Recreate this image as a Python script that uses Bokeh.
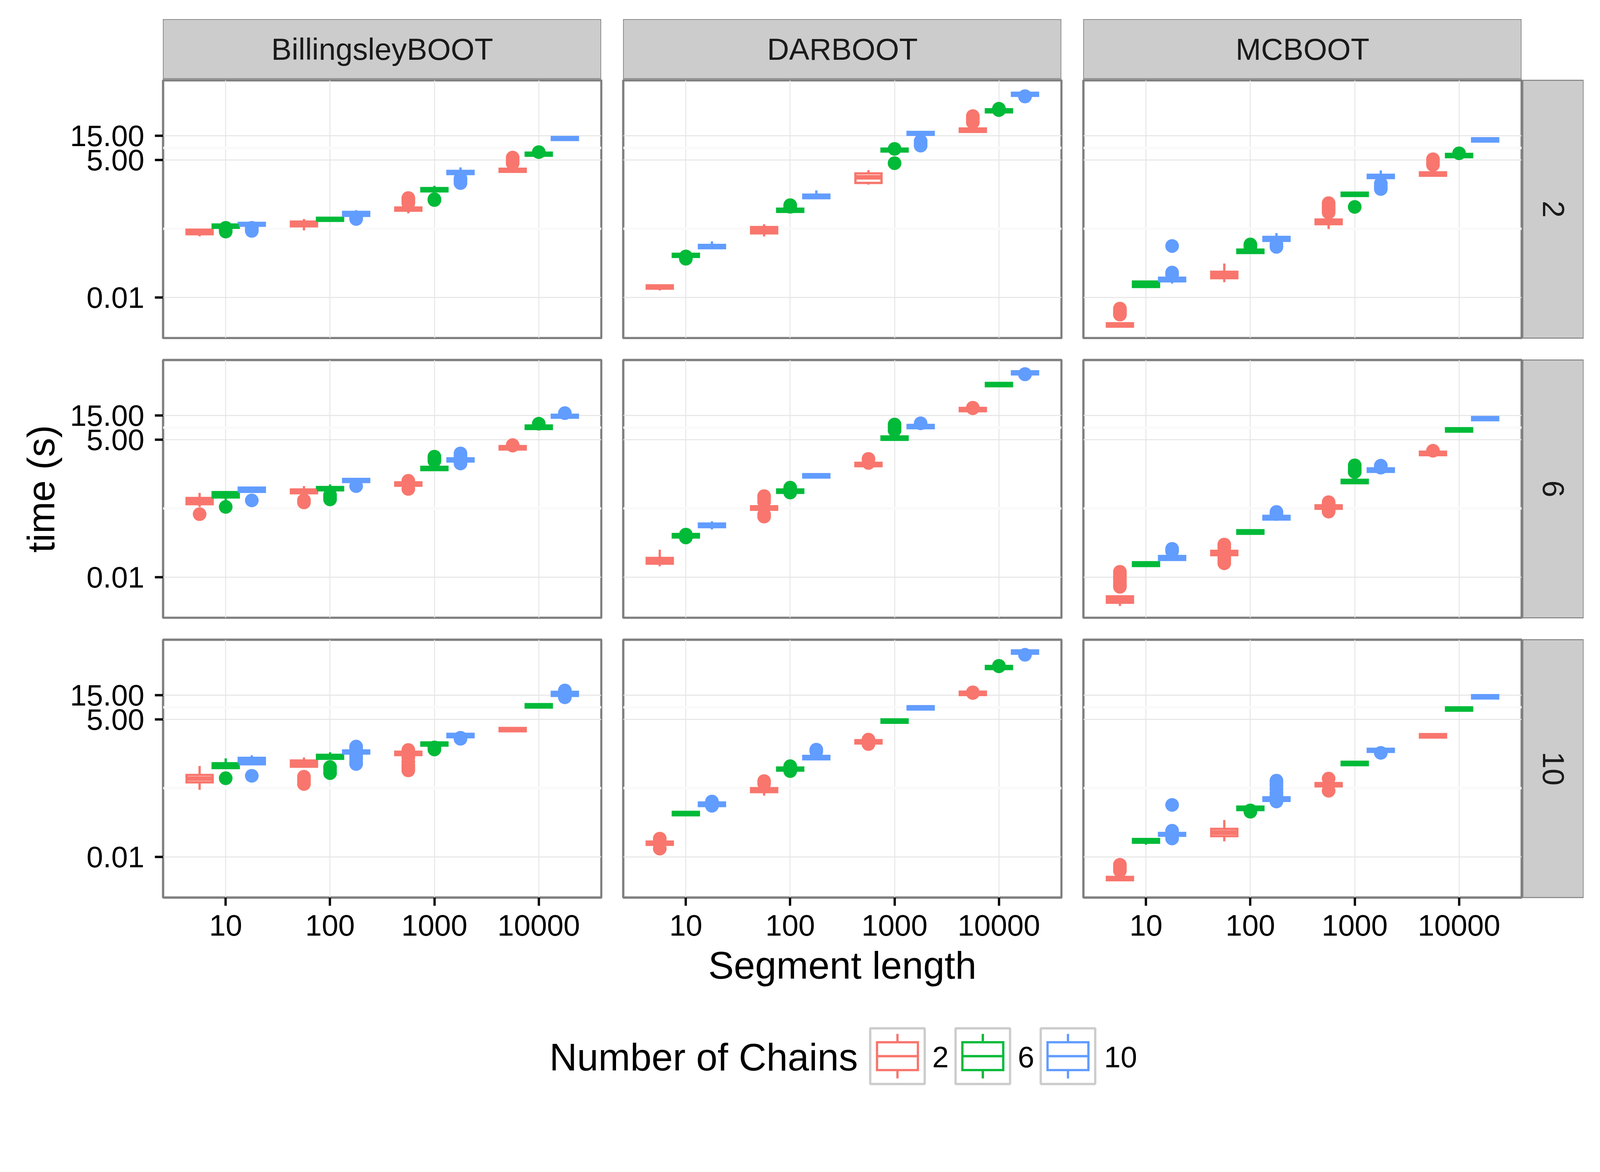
import math
from bokeh.plotting import figure
from bokeh.models import Range1d, FixedTicker, ColumnDataSource, Spacer
from bokeh.layouts import row, column
from bokeh.embed import file_html
from bokeh.resources import INLINE
from bokeh.core.properties import value

# ---------------- data ----------------
METHODS = ["BillingsleyBOOT", "DARBOOT", "MCBOOT"]
ROW_LEVELS = ["2", "6", "10"]
SEGMENTS = ["10", "100", "1000", "10000"]
CHAINS = ["2", "6", "10"]
COLORS = ["#F8766D", "#00BA38", "#619CFF"]
Y_TICKS = [0.01, 5, 15]
Y_TICK_LABELS = ["0.01", "5.00", "15.00"]
X_TITLE = "Segment length"
Y_TITLE = "time (s)"
LEGEND_TITLE = "Number of Chains"

# each panel: 12 boxes ordered by segment then chains:
# (lower whisker, q1, median, q3, upper whisker) in seconds
BILL_2 = [
    (0.159, 0.175, 0.194, 0.215, 0.215), (0.234, 0.234, 0.252, 0.271, 0.271), (0.256, 0.256, 0.274, 0.292, 0.292),
    (0.208, 0.250, 0.279, 0.310, 0.348), (0.320, 0.320, 0.343, 0.368, 0.368), (0.401, 0.401, 0.439, 0.479, 0.519),
    (0.449, 0.505, 0.543, 0.585, 0.585), (1.211, 1.211, 1.303, 1.403, 1.556), (2.649, 2.649, 2.838, 3.048, 3.573),
    (2.924, 2.924, 3.133, 3.365, 3.365), (6.067, 6.067, 6.501, 6.982, 6.982), (12.36, 12.36, 13.18, 14.09, 14.09),
]
BILL_2_OUT = [[], [0.233, 0.214, 0.197], [0.233, 0.219, 0.203],
              [], [], [0.372, 0.348],
              [0.711, 0.767, 0.832, 0.895], [0.817, 0.851], [2.163, 1.95, 1.762],
              [4.325, 4.898, 5.572], [7.129], []]

DAR_2 = [
    (0.0138, 0.01496, 0.01611, 0.01734, 0.01734), (0.0627, 0.0627, 0.0671, 0.0721, 0.0721), (0.0931, 0.0931, 0.1002, 0.1079, 0.1262),
    (0.158, 0.182, 0.209, 0.242, 0.274), (0.479, 0.479, 0.515, 0.555, 0.555), (0.891, 0.891, 0.966, 1.047, 1.265),
    (1.644, 1.774, 2.286, 2.729, 3.155), (7.328, 7.328, 7.816, 8.356, 8.356), (15.56, 15.56, 16.6, 17.74, 17.74),
    (17.78, 17.78, 19.19, 20.75, 20.75), (42.95, 42.95, 46.03, 49.43, 49.43), (90.57, 90.57, 97.05, 104.2, 104.2),
]
DAR_2_OUT = [[], [0.0641, 0.0577], [],
             [], [0.649, 0.603], [],
             [], [8.241, 4.325], [11.75, 10.59, 9.55],
             [27.35, 31.6, 36.3], [50.6, 47.5], [89.3, 87.9]]

MC_2 = [
    (0.00269, 0.00269, 0.00290, 0.00313, 0.00313), (0.0161, 0.0161, 0.0182, 0.0206, 0.0206), (0.0188, 0.0208, 0.0226, 0.0245, 0.0245),
    (0.0200, 0.0240, 0.0278, 0.0321, 0.0465), (0.0748, 0.0748, 0.0809, 0.0873, 0.0873), (0.1294, 0.1294, 0.1416, 0.1549, 0.184),
    (0.221, 0.275, 0.305, 0.340, 0.340), (0.984, 0.984, 1.059, 1.140, 1.140), (2.208, 2.208, 2.377, 2.559, 3.112),
    (2.449, 2.449, 2.642, 2.858, 2.858), (5.675, 5.675, 6.109, 6.577, 6.577), (11.51, 11.51, 12.39, 13.34, 13.34),
]
MC_2_OUT = [[0.00607, 0.00550, 0.00501, 0.00463], [], [0.0309, 0.0282, 0.1026],
            [], [0.110, 0.100], [0.0986, 0.1096],
            [0.711, 0.646, 0.575, 0.525, 0.466], [0.600], [1.722, 1.514, 1.346],
            [4.009, 4.571, 5.164], [6.761], []]

BILL_6 = [
    (0.240, 0.272, 0.313, 0.359, 0.452), (0.327, 0.368, 0.415, 0.468, 0.468), (0.474, 0.474, 0.522, 0.575, 0.575),
    (0.445, 0.445, 0.484, 0.527, 0.614), (0.508, 0.508, 0.547, 0.589, 0.664), (0.740, 0.740, 0.792, 0.851, 0.851),
    (0.624, 0.624, 0.673, 0.728, 0.728), (1.268, 1.268, 1.365, 1.469, 1.469), (1.871, 1.871, 2.005, 2.153, 2.153),
    (3.206, 3.206, 3.459, 3.741, 3.741), (8.128, 8.128, 8.77, 9.484, 9.484), (13.55, 13.55, 14.45, 15.45, 15.45),
]
BILL_6_OUT = [[0.173], [0.240], [0.322],
              [0.324, 0.294], [0.412, 0.372, 0.337], [0.614],
              [0.780, 0.540], [1.914, 2.089, 2.323], [2.685, 2.399, 1.905, 1.706],
              [3.917, 3.828], [10.3], [16.6]]

DAR_6 = [
    (0.0164, 0.0185, 0.0211, 0.0239, 0.0348), (0.0604, 0.0604, 0.0652, 0.0705, 0.0705), (0.0867, 0.0962, 0.1042, 0.1130, 0.1253),
    (0.211, 0.211, 0.228, 0.247, 0.247), (0.452, 0.452, 0.488, 0.527, 0.527), (0.904, 0.904, 0.975, 1.054, 1.054),
    (1.51, 1.51, 1.629, 1.762, 1.762), (4.966, 4.966, 5.358, 5.794, 5.794), (8.395, 8.395, 9.036, 9.727, 9.727),
    (18.11, 18.11, 19.5, 20.99, 20.99), (55.98, 55.98, 60.26, 64.86, 64.86), (95.5, 95.5, 102.3, 109.6, 109.6),
]
DAR_6_OUT = [[], [0.0687, 0.0604], [],
             [0.391, 0.347, 0.303, 0.155, 0.170], [0.573, 0.459], [],
             [2.10, 1.75], [7.638, 8.71, 9.908], [10.47],
             [21.2, 20.7], [], [97.0, 95.7]]

MC_6 = [
    (0.00273, 0.00317, 0.00366, 0.00422, 0.00422), (0.0166, 0.0166, 0.0181, 0.0197, 0.0197), (0.0219, 0.0219, 0.0240, 0.0262, 0.0262),
    (0.0272, 0.0272, 0.0300, 0.0330, 0.0330), (0.0713, 0.0713, 0.0773, 0.0838, 0.0838), (0.136, 0.136, 0.147, 0.160, 0.160),
    (0.221, 0.221, 0.239, 0.258, 0.258), (0.701, 0.701, 0.757, 0.818, 0.818), (1.172, 1.172, 1.265, 1.368, 1.368),
    (2.489, 2.489, 2.685, 2.904, 2.904), (7.194, 7.194, 7.762, 8.395, 8.395), (12.05, 12.05, 12.97, 13.96, 13.96),
]
MC_6_OUT = [[0.0128, 0.0112, 0.0100, 0.00891, 0.00794, 0.00708, 0.00650], [], [0.0361, 0.0324],
            [0.0438, 0.0380, 0.0240, 0.0214, 0.0188], [], [0.191, 0.174],
            [0.297, 0.275, 0.209, 0.194], [1.161, 1.259, 1.380, 1.570], [1.545, 1.413],
            [3.034], [], []]

BILL_10 = [
    (0.208, 0.292, 0.345, 0.407, 0.610), (0.556, 0.556, 0.619, 0.690, 0.861), (0.658, 0.658, 0.762, 0.881, 0.989),
    (0.589, 0.589, 0.679, 0.783, 0.895), (0.843, 0.843, 0.923, 1.009, 1.135), (1.069, 1.069, 1.146, 1.230, 1.230),
    (0.998, 0.998, 1.076, 1.164, 1.164), (1.528, 1.528, 1.644, 1.770, 1.770), (2.234, 2.234, 2.410, 2.606, 2.606),
    (2.931, 2.931, 3.155, 3.396, 3.396), (8.57, 8.57, 9.247, 9.977, 9.977), (14.49, 14.49, 15.85, 17.34, 17.34),
]
BILL_10_OUT = [[], [0.351], [0.391],
               [0.376, 0.339, 0.302, 0.270], [0.582, 0.513, 0.442], [1.466, 1.318, 0.955, 0.855, 0.733, 0.668],
               [1.256, 0.891, 0.741, 0.631, 0.562, 0.499], [1.285, 1.413], [2.183, 2.084],
               [], [], [18.49, 13.58, 15.85]]

DAR_10 = [
    (0.0173, 0.0173, 0.0186, 0.0201, 0.0201), (0.0658, 0.0658, 0.0710, 0.0766, 0.0766), (0.0998, 0.0998, 0.108, 0.117, 0.117),
    (0.160, 0.1875, 0.205, 0.224, 0.224), (0.495, 0.495, 0.531, 0.570, 0.570), (0.824, 0.824, 0.889, 0.962, 0.962),
    (1.687, 1.687, 1.816, 1.954, 1.954), (4.295, 4.295, 4.634, 5.0, 5.0), (7.834, 7.834, 8.433, 9.078, 9.078),
    (15.03, 15.03, 16.22, 17.5, 17.5), (48.64, 48.64, 52.12, 55.98, 55.98), (97.27, 97.27, 104.7, 112.7, 112.7),
]
DAR_10_OUT = [[0.0229, 0.0146], [], [0.1225, 0.1009],
              [0.308, 0.275], [0.605, 0.484], [1.274, 1.175],
              [2.005, 1.644], [], [],
              [16.98, 16.48], [56.2, 54.95], [92.68]]

MC_10 = [
    (0.00350, 0.00350, 0.00377, 0.00406, 0.00406), (0.0174, 0.0191, 0.0207, 0.0225, 0.0225), (0.0261, 0.0261, 0.0278, 0.0296, 0.0296),
    (0.0203, 0.0256, 0.0302, 0.0356, 0.0530), (0.0834, 0.0834, 0.0900, 0.0973, 0.0973), (0.126, 0.126, 0.136, 0.148, 0.148),
    (0.243, 0.243, 0.262, 0.282, 0.282), (0.634, 0.634, 0.684, 0.738, 0.738), (1.153, 1.153, 1.236, 1.327, 1.327),
    (2.203, 2.203, 2.377, 2.570, 2.570), (7.413, 7.413, 7.998, 8.63, 8.63), (12.91, 12.91, 13.9, 14.96, 14.96),
]
MC_10_OUT = [[0.00703, 0.00617, 0.00537], [], [0.0327, 0.0231, 0.105],
             [], [0.0820, 0.0773], [0.315, 0.282, 0.251, 0.214, 0.182, 0.158, 0.1225],
             [0.345, 0.199], [], [1.102],
             [], [], []]

PANELS = [
    [(BILL_2, BILL_2_OUT), (DAR_2, DAR_2_OUT), (MC_2, MC_2_OUT)],
    [(BILL_6, BILL_6_OUT), (DAR_6, DAR_6_OUT), (MC_6, MC_6_OUT)],
    [(BILL_10, BILL_10_OUT), (DAR_10, DAR_10_OUT), (MC_10, MC_10_OUT)],
]

# ---------------- layout / style ----------------
FONT = "Liberation Sans"
PANEL_W, PANEL_H = 1122, 660
PAD = 3
LEFT = 417
BOTTOM = 250
GAP = 56
TOP = 49
STRIP_TOP_H = 153
STRIP_W = 156
TOTAL_W, TOTAL_H = 4097, 2927
Y_LO, Y_HI = 0.0016, 183.0
X_LO, X_HI = 0.4, 4.6
BOX_W = 0.25
DODGE = 0.25
LW = 5.85
GRID_MAJOR = "#E5E5E5"
GRID_MINOR = "#FAFAFA"
BORDER = "#7F7F7F"
TICK_FS = "76px"
STRIP_FS = "78px"
TITLE_FS = "98px"


def style_axis(ax):
    ax.axis_line_color = None
    ax.major_tick_line_color = "black"
    ax.major_tick_line_width = 5.85
    ax.major_tick_out = 21
    ax.major_tick_in = 0
    ax.minor_tick_line_color = None
    ax.major_label_text_font = FONT
    ax.major_label_text_font_size = TICK_FS
    ax.major_label_text_color = "black"
    ax.axis_label_text_font = FONT
    ax.axis_label_text_font_size = TITLE_FS
    ax.axis_label_text_font_style = "normal"
    ax.axis_label_text_color = "black"


def make_panel(stats, outl, r, c):
    show_y = c == 0
    show_x = r == len(ROW_LEVELS) - 1
    bl = LEFT if show_y else PAD
    bb = BOTTOM if show_x else PAD
    p = figure(width=bl + PANEL_W + PAD, height=PAD + PANEL_H + bb,
               x_range=Range1d(X_LO, X_HI), y_range=Range1d(Y_LO, Y_HI),
               y_axis_type="log",
               x_axis_location="below" if show_x else None,
               y_axis_location="left" if show_y else None,
               output_backend="svg", toolbar_location=None,
               min_border_left=bl, min_border_right=PAD,
               min_border_top=PAD, min_border_bottom=bb)
    p.background_fill_color = "white"
    p.border_fill_color = "white"
    p.outline_line_color = BORDER
    p.outline_line_width = LW

    xt = FixedTicker(ticks=list(range(1, len(SEGMENTS) + 1)))
    minor = [10 ** ((math.log10(a) + math.log10(b)) / 2) for a, b in zip(Y_TICKS[:-1], Y_TICKS[1:])]
    yt = FixedTicker(ticks=Y_TICKS, minor_ticks=minor)
    for g in p.xgrid:
        g.ticker = xt
        g.grid_line_color = GRID_MAJOR
        g.grid_line_width = 2.3
    for g in p.ygrid:
        g.ticker = yt
        g.grid_line_color = GRID_MAJOR
        g.grid_line_width = 2.3
        g.minor_grid_line_color = GRID_MINOR
        g.minor_grid_line_width = 5.85

    if show_x:
        ax = p.xaxis[0]
        ax.ticker = xt
        ax.major_label_overrides = {i + 1: s for i, s in enumerate(SEGMENTS)}
        style_axis(ax)
        ax.major_label_standoff = 23
        if c == 1:
            ax.axis_label = X_TITLE
            ax.axis_label_standoff = 18
    if show_y:
        ay = p.yaxis[0]
        ay.ticker = yt
        ay.major_label_overrides = {t: s for t, s in zip(Y_TICKS, Y_TICK_LABELS)}
        style_axis(ay)
        ay.major_label_standoff = 27
        if r == 1:
            ay.axis_label = Y_TITLE
            ay.axis_label_standoff = 16

    nch = len(CHAINS)
    xs, left, right, lo, q1, med, q3, hi, col = [], [], [], [], [], [], [], [], []
    ox, oy, oc = [], [], []
    for i, (a, b, m, d, e) in enumerate(stats):
        seg = i // nch
        ch = i % nch
        x = seg + 1 + (ch - (nch - 1) / 2) * DODGE
        xs.append(x)
        left.append(x - BOX_W / 2)
        right.append(x + BOX_W / 2)
        lo.append(a); q1.append(b); med.append(m); q3.append(d); hi.append(e)
        col.append(COLORS[ch])
        for v in outl[i]:
            ox.append(x); oy.append(v); oc.append(COLORS[ch])
    src = ColumnDataSource(dict(x=xs, left=left, right=right, lo=lo, q1=q1, med=med, q3=q3, hi=hi, color=col))
    osrc = ColumnDataSource(dict(x=ox, y=oy, color=oc))
    p.scatter(x="x", y="y", source=osrc, size=35, fill_color="color", line_color=None)
    p.segment(x0="x", y0="lo", x1="x", y1="q1", source=src, line_color="color", line_width=LW)
    p.segment(x0="x", y0="q3", x1="x", y1="hi", source=src, line_color="color", line_width=LW)
    p.quad(left="left", right="right", bottom="q1", top="q3", source=src,
           fill_color="white", line_color="color", line_width=LW, line_join="miter")
    p.segment(x0="left", y0="med", x1="right", y1="med", source=src, line_color="color", line_width=2 * LW)
    return p


def make_strip(text, w, h, angle, bt=0, bb=0):
    s = figure(width=w, height=h, x_range=Range1d(0, 1), y_range=Range1d(0, 1),
               x_axis_location=None, y_axis_location=None,
               output_backend="svg", toolbar_location=None,
               min_border_left=0, min_border_right=0, min_border_top=bt, min_border_bottom=bb)
    s.grid.visible = False
    s.background_fill_color = "#CCCCCC"
    s.border_fill_color = "white"
    s.outline_line_color = BORDER
    s.outline_line_width = 2.3
    s.text(x=[0.5], y=[0.5], text=[text], angle=angle, text_align="center", text_baseline="middle",
           text_font=value(FONT), text_font_size=STRIP_FS, text_color="#1A1A1A")
    return s


# top strips
top_children = [Spacer(width=LEFT, height=STRIP_TOP_H)]
for c, m in enumerate(METHODS):
    if c > 0:
        top_children.append(Spacer(width=GAP, height=STRIP_TOP_H))
    top_children.append(make_strip(m, PANEL_W, STRIP_TOP_H, 0))
rows = [Spacer(width=100, height=TOP), row(*top_children)]
used_h = TOP + STRIP_TOP_H

for r, lvl in enumerate(ROW_LEVELS):
    show_x = r == len(ROW_LEVELS) - 1
    bb = BOTTOM if show_x else PAD
    h = PAD + PANEL_H + bb
    children = []
    for c in range(len(METHODS)):
        if c > 0:
            children.append(Spacer(width=GAP - 2 * PAD, height=h))
        stats, outl = PANELS[r][c]
        children.append(make_panel(stats, outl, r, c))
    children.append(make_strip(lvl, STRIP_W, h, -math.pi / 2, bt=PAD, bb=bb))
    if r > 0:
        rows.append(Spacer(width=100, height=GAP - 2 * PAD))
        used_h += GAP - 2 * PAD
    rows.append(row(*children))
    used_h += h

# legend
LEG_W, LEG_H = TOTAL_W, TOTAL_H - used_h
KEY_Y = 156
KEY_X = [2297.0, 2515.5, 2733.5]
LABEL_X = [2386, 2605, 2826]
TITLE_X = 1406
KEY_W, KEY_H = 139.5, 142.5
leg = figure(width=LEG_W, height=LEG_H, x_range=Range1d(0, LEG_W), y_range=Range1d(LEG_H, 0),
             x_axis_location=None, y_axis_location=None,
             output_backend="svg", toolbar_location=None,
             min_border_left=0, min_border_right=0, min_border_top=0, min_border_bottom=0)
leg.grid.visible = False
leg.outline_line_color = None
leg.text(x=[TITLE_X], y=[KEY_Y + 2], text=[LEGEND_TITLE], text_align="left", text_baseline="middle",
         text_font=value(FONT), text_font_size=TITLE_FS, text_color="black")
leg.rect(x=KEY_X, y=[KEY_Y] * 3, width=KEY_W, height=KEY_H, fill_color="white",
         line_color="#CCCCCC", line_width=LW)
bw, bh = 0.75 * KEY_W, 0.5 * KEY_H
lsrc = ColumnDataSource(dict(
    x=KEY_X, l=[k - bw / 2 for k in KEY_X], r=[k + bw / 2 for k in KEY_X],
    t=[KEY_Y - bh / 2] * 3, b=[KEY_Y + bh / 2] * 3,
    wt=[KEY_Y - 0.4 * KEY_H] * 3, wb=[KEY_Y + 0.4 * KEY_H] * 3, m=[KEY_Y] * 3, color=COLORS))
leg.segment(x0="x", y0="wt", x1="x", y1="t", source=lsrc, line_color="color", line_width=LW)
leg.segment(x0="x", y0="b", x1="x", y1="wb", source=lsrc, line_color="color", line_width=LW)
leg.quad(left="l", right="r", top="t", bottom="b", source=lsrc, fill_color="white",
         line_color="color", line_width=LW, line_join="miter")
leg.segment(x0="l", y0="m", x1="r", y1="m", source=lsrc, line_color="color", line_width=LW)
leg.text(x=LABEL_X, y=[KEY_Y + 2] * 3, text=CHAINS, text_align="left", text_baseline="middle",
         text_font=value(FONT), text_font_size=TICK_FS, text_color="black")
rows.append(leg)

page = column(*rows)
open("out.html", "w").write(file_html(page, INLINE))
